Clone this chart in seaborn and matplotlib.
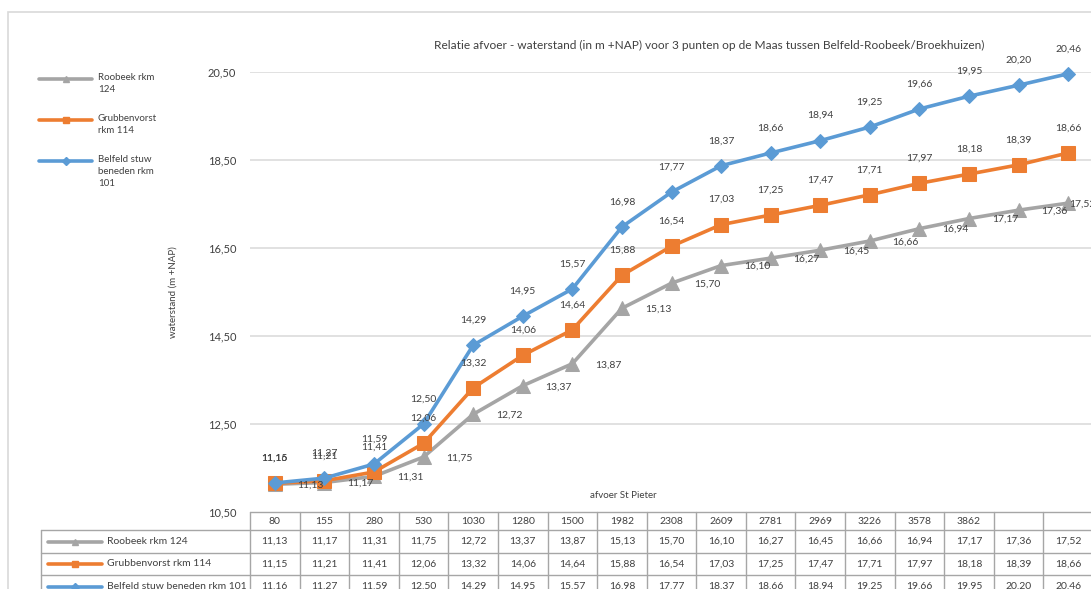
import matplotlib
matplotlib.use("Agg")
import matplotlib.pyplot as plt
import matplotlib.transforms as mtransforms
from matplotlib.lines import Line2D
from matplotlib.patches import Rectangle
import seaborn as sns
import pandas as pd

# Discharge at St Pieter (m3/s); the last two columns have no discharge value
afvoer = ["80", "155", "280", "530", "1030", "1280", "1500", "1982", "2308",
          "2609", "2781", "2969", "3226", "3578", "3862", "", ""]

roobeek = [11.13, 11.17, 11.31, 11.75, 12.72, 13.37, 13.87, 15.13, 15.70,
           16.10, 16.27, 16.45, 16.66, 16.94, 17.17, 17.36, 17.52]
grubbenvorst = [11.15, 11.21, 11.41, 12.06, 13.32, 14.06, 14.64, 15.88, 16.54,
                17.03, 17.25, 17.47, 17.71, 17.97, 18.18, 18.39, 18.66]
belfeld = [11.16, 11.27, 11.59, 12.50, 14.29, 14.95, 15.57, 16.98, 17.77,
           18.37, 18.66, 18.94, 19.25, 19.66, 19.95, 20.20, 20.46]

legend_names = ["Roobeek rkm\n124", "Grubbenvorst\nrkm 114", "Belfeld stuw\nbeneden rkm\n101"]
table_names = ["Roobeek rkm 124", "Grubbenvorst rkm 114", "Belfeld stuw beneden rkm 101"]
y_ticks = [10.5, 12.5, 14.5, 16.5, 18.5, 20.5]

title = "Relatie afvoer - waterstand (in m +NAP) voor 3 punten op de Maas tussen Belfeld-Roobeek/Broekhuizen)"
x_title = "afvoer St Pieter"
y_title = "waterstand (m +NAP)"

series = [roobeek, grubbenvorst, belfeld]
colors = ["#A5A5A5", "#ED7D31", "#5B9BD5"]
markers = ["^", "s", "D"]
msizes = [9.5, 9.5, 7.5]

sns.set_style("white")
plt.rcParams["font.family"] = ["Lato", "DejaVu Sans"]
TXT = "#404040"

W, H = 1091, 589
fig = plt.figure(figsize=(W / 100, H / 100), dpi=100)

def fx(px):
    return px / W

def fy(py):
    return 1 - py / H

# chart frame
fig.add_artist(Rectangle((fx(8), fy(700)), fx(1200), fy(12) - fy(700),
                         transform=fig.transFigure, fill=False,
                         edgecolor="#D9D9D9", linewidth=1.2))

ax_l, ax_r, ax_t, ax_b = 250, 1093, 72, 512
ax = fig.add_axes([fx(ax_l), fy(ax_b), fx(ax_r - ax_l), (ax_b - ax_t) / H])

n = len(afvoer)
pos = list(range(n))
for vals, col, mk, ms in zip(series, colors, markers, msizes):
    df = pd.DataFrame({"pos": pos, "waarde": vals})
    sns.lineplot(data=df, x="pos", y="waarde", ax=ax, color=col, marker=mk,
                 markersize=ms, markeredgecolor=col, linewidth=2.6,
                 zorder=3, clip_on=False)

def fmt(v):
    return f"{v:.2f}".replace(".", ",")

# data labels
for i in pos:
    ax.annotate(fmt(belfeld[i]), (i, belfeld[i]), xytext=(0, 25),
                textcoords="offset pixels", ha="center", va="center",
                fontsize=7.5, color=TXT, annotation_clip=False)
    ax.annotate(fmt(grubbenvorst[i]), (i, grubbenvorst[i]), xytext=(0, 25),
                textcoords="offset pixels", ha="center", va="center",
                fontsize=7.5, color=TXT, annotation_clip=False)
    # the last label is pulled in towards its point at the right edge
    dx = 36 if i < n - 1 else 14
    ax.annotate(fmt(roobeek[i]), (i, roobeek[i]), xytext=(dx, -1),
                textcoords="offset pixels", ha="center", va="center",
                fontsize=7.5, color=TXT, annotation_clip=False)

ax.set_xlim(-0.5, n - 0.5)
ax.set_ylim(10.5, 20.5)
ax.set_yticks(y_ticks)
ax.set_yticklabels([fmt(t) for t in y_ticks], fontsize=8, color=TXT)
ax.tick_params(axis="y", length=0, pad=10)
ax.set_xticks([])
ax.set_xlabel("")
ax.set_ylabel(y_title, fontsize=7, color=TXT)
ax.yaxis.set_label_coords((178 - ax_l) / (ax_r - ax_l), 0.5)
for s in ax.spines.values():
    s.set_visible(False)
ax.grid(False)
for t in y_ticks[1:]:
    ax.axhline(t, color="#D9D9D9", linewidth=1.1, zorder=1)

ax.text((623 - ax_l) / (ax_r - ax_l), (ax_b - 496) / (ax_b - ax_t), x_title,
        transform=ax.transAxes, ha="center", va="center", fontsize=7, color=TXT)

fig.text(fx(709), fy(45), title, ha="center", va="center", fontsize=8.6, color=TXT)

# legend on the left
for k, (name, col, mk) in enumerate(zip(legend_names, colors, markers)):
    yy = 79 + 41 * k
    fig.add_artist(Line2D([fx(39), fx(92)], [fy(yy), fy(yy)], color=col,
                          linewidth=2.6, transform=fig.transFigure))
    fig.add_artist(Line2D([fx(65.5)], [fy(yy)], color=col, marker=mk,
                          markersize=4, linestyle="none", transform=fig.transFigure))
    fig.text(fx(98), fy(yy - 6), name, ha="left", va="top", fontsize=7,
             color=TXT, linespacing=1.45)

# data table below the plot
grid_c = "#A6A6A6"
bt = mtransforms.blended_transform_factory(ax.transData, fig.transFigure)
rows_y = [512, 530, 553, 575, 598]

def hline(x0, x1, y, trans):
    fig.add_artist(Line2D([x0, x1], [fy(y), fy(y)], color=grid_c, linewidth=1,
                          transform=trans))

def vline(x, y0, y1, trans):
    fig.add_artist(Line2D([x, x], [fy(y0), fy(y1)], color=grid_c, linewidth=1,
                          transform=trans))

hline(-0.5, n - 0.5, rows_y[0], bt)
for y in rows_y[1:]:
    hline(fx(41), fx(ax_l), y, fig.transFigure)
    hline(-0.5, n - 0.5, y, bt)
vline(fx(41), rows_y[1], rows_y[-1], fig.transFigure)
for i in range(n + 1):
    vline(i - 0.5, rows_y[0], rows_y[-1], bt)

for i, lab in enumerate(afvoer):
    t = fig.text(0, 0, lab, transform=bt, ha="center", va="center",
                 fontsize=7.5, color=TXT)
    t.set_position((i, fy((rows_y[0] + rows_y[1]) / 2)))

for r, (vals, name, col, mk) in enumerate(zip(series, table_names, colors, markers)):
    yc = (rows_y[r + 1] + rows_y[r + 2]) / 2
    fig.add_artist(Line2D([fx(48), fx(102)], [fy(yc), fy(yc)], color=col,
                          linewidth=2.6, transform=fig.transFigure))
    fig.add_artist(Line2D([fx(75)], [fy(yc)], color=col, marker=mk,
                          markersize=4, linestyle="none", transform=fig.transFigure))
    fig.text(fx(107), fy(yc), name, ha="left", va="center", fontsize=7.5, color=TXT)
    for i, v in enumerate(vals):
        t = fig.text(0, 0, fmt(v), transform=bt, ha="center", va="center",
                     fontsize=7.5, color=TXT)
        t.set_position((i, fy(yc)))

fig.savefig("out.png", dpi=100)
